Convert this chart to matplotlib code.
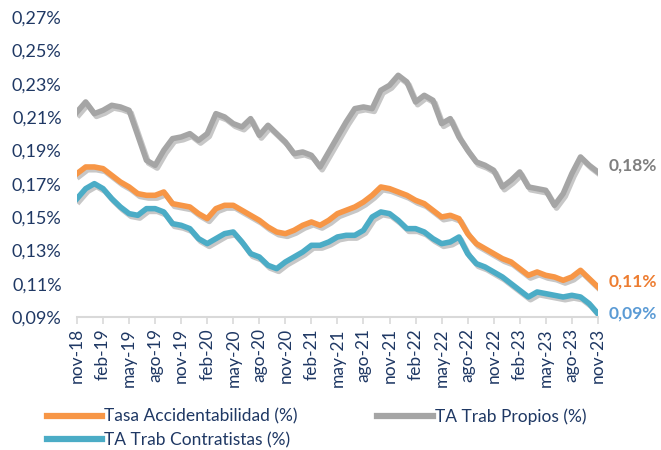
import numpy as np
import matplotlib
matplotlib.use("Agg")
import matplotlib.pyplot as plt
import matplotlib.patheffects as pe
from matplotlib.ticker import FuncFormatter

plt.rcParams['font.family'] = ['Lato', 'DejaVu Sans']

# meses nov-18 .. nov-23
meses_es = ['ene', 'feb', 'mar', 'abr', 'may', 'jun', 'jul', 'ago', 'sep', 'oct', 'nov', 'dic']
fechas = []
for k in range(61):
    m = (10 + k) % 12
    a = 18 + (10 + k) // 12
    fechas.append(f'{meses_es[m]}-{a}')

tasa_acc = [0.176, 0.180, 0.180, 0.179, 0.175, 0.171, 0.168, 0.164, 0.163, 0.163,
            0.165, 0.158, 0.157, 0.156, 0.152, 0.149, 0.155, 0.157, 0.157, 0.154,
            0.151, 0.148, 0.144, 0.141, 0.140, 0.142, 0.145, 0.147, 0.145, 0.148,
            0.152, 0.154, 0.156, 0.159, 0.163, 0.168, 0.167, 0.165, 0.163, 0.160,
            0.158, 0.154, 0.150, 0.151, 0.149, 0.140, 0.134, 0.131, 0.128, 0.125,
            0.123, 0.119, 0.115, 0.117, 0.115, 0.114, 0.112, 0.114, 0.118, 0.113,
            0.108]

ta_propios = [0.213, 0.219, 0.212, 0.214, 0.217, 0.216, 0.214, 0.199, 0.184, 0.181,
              0.190, 0.197, 0.198, 0.200, 0.196, 0.200, 0.212, 0.210, 0.206, 0.204,
              0.209, 0.199, 0.205, 0.200, 0.195, 0.188, 0.189, 0.187, 0.180, 0.189,
              0.198, 0.207, 0.215, 0.216, 0.215, 0.226, 0.229, 0.235, 0.231, 0.219,
              0.223, 0.220, 0.206, 0.209, 0.198, 0.190, 0.183, 0.181, 0.178, 0.168,
              0.172, 0.177, 0.168, 0.167, 0.166, 0.157, 0.164, 0.176, 0.186, 0.181,
              0.177]

ta_contratistas = [0.161, 0.167, 0.170, 0.167, 0.161, 0.156, 0.152, 0.151, 0.155, 0.155,
                   0.153, 0.146, 0.145, 0.143, 0.137, 0.134, 0.137, 0.140, 0.141, 0.135,
                   0.128, 0.126, 0.121, 0.119, 0.123, 0.126, 0.129, 0.133, 0.133, 0.135,
                   0.138, 0.139, 0.139, 0.142, 0.150, 0.153, 0.152, 0.148, 0.143, 0.143,
                   0.141, 0.137, 0.134, 0.135, 0.138, 0.128, 0.122, 0.120, 0.117, 0.114,
                   0.110, 0.106, 0.102, 0.105, 0.104, 0.103, 0.102, 0.103, 0.102, 0.098,
                   0.092]

c_orange = '#F79646'
c_grey = '#A5A5A5'
c_blue = '#4BACC6'
c_text = '#1F3864'

fig = plt.figure(figsize=(6.61, 4.5), dpi=100)
ax = fig.add_axes([0.1165, 0.2956, 0.788, 0.6667])

x = np.arange(len(fechas))
sombra = [pe.SimpleLineShadow(offset=(1.5, -2), shadow_color='k', alpha=0.22), pe.Normal()]

l1, = ax.plot(x, tasa_acc, color=c_orange, lw=4, solid_joinstyle='round',
              path_effects=sombra, label='Tasa Accidentabilidad (%)')
l2, = ax.plot(x, ta_propios, color=c_grey, lw=4, solid_joinstyle='round',
              path_effects=sombra, label='TA Trab Propios (%)')
l3, = ax.plot(x, ta_contratistas, color=c_blue, lw=4, solid_joinstyle='round',
              path_effects=sombra, label='TA Trab Contratistas (%)')

ax.set_xlim(0, 60)
ax.set_ylim(0.09, 0.27)
ax.set_yticks(np.arange(0.09, 0.2701, 0.02))
ax.yaxis.set_major_formatter(FuncFormatter(lambda v, p: f'{v:.2f}%'.replace('.', ',')))
ax.set_xticks(x[::3])
ax.set_xticklabels(fechas[::3], rotation=90)

for s in ['top', 'right', 'left']:
    ax.spines[s].set_visible(False)
ax.spines['bottom'].set_color('#D9D9D9')
ax.spines['bottom'].set_linewidth(1.5)
ax.tick_params(axis='y', length=0, pad=11, labelsize=13, labelcolor=c_text)
ax.tick_params(axis='x', length=5, width=1.2, color='#D9D9D9', direction='out',
               labelsize=12.5, labelcolor=c_text, pad=3)

# etiquetas finales
ax.annotate('0,18%', (60, ta_propios[-1]), xytext=(8, 5), textcoords='offset points',
            color='#7F7F7F', fontsize=12.5, fontweight='bold', va='center', annotation_clip=False)
ax.annotate('0,11%', (60, tasa_acc[-1]), xytext=(8, 4), textcoords='offset points',
            color='#ED7D31', fontsize=12.5, fontweight='bold', va='center', annotation_clip=False)
ax.annotate('0,09%', (60, ta_contratistas[-1]), xytext=(8, 0), textcoords='offset points',
            color='#5B9BD5', fontsize=12.5, fontweight='bold', va='center', annotation_clip=False)

leg = fig.legend(handles=[l1, l3, l2], loc='upper left', bbox_to_anchor=(0.06, 0.108),
                 ncol=2, frameon=False, fontsize=12.5, handlelength=3.2, handletextpad=0.1,
                 columnspacing=4.6, labelspacing=0.4, borderaxespad=0)
for t in leg.get_texts():
    t.set_color(c_text)
for h in leg.get_lines():
    h.set_path_effects([])
    h.set_linewidth(4.5)

fig.savefig('out.png', dpi=100)
